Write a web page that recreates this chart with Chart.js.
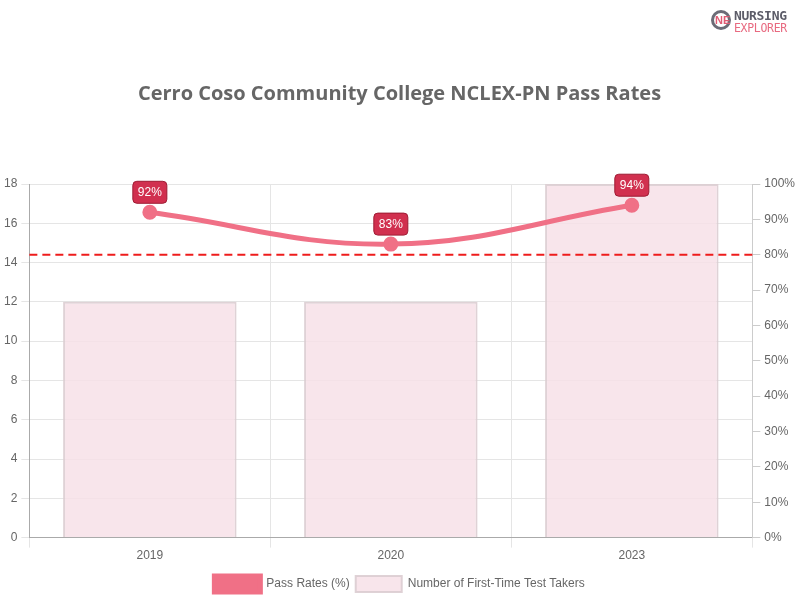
<!DOCTYPE html>
<html><head><meta charset="utf-8">
<script src="https://cdn.jsdelivr.net/npm/chart.js@4"></script>
<style>
html,body{margin:0;padding:0;background:#fff;}
#wrap{position:relative;width:800px;height:600px;}
#logo{position:absolute;left:710px;top:8px;width:90px;height:28px;font-family:"DejaVu Sans Mono","Liberation Mono",monospace;}
#logo .ic{position:absolute;left:1px;top:2px;width:20px;height:20px;border:3px solid #6b6b76;border-radius:50%;box-sizing:border-box;}
#logo .ic span{position:absolute;left:1px;top:1px;font:bold 11px "Liberation Sans",sans-serif;color:#e05c74;}
#logo .t1{position:absolute;left:24px;top:0px;font-weight:bold;font-size:13px;color:#5c5c68;letter-spacing:-0.3px;}
#logo .t2{position:absolute;left:24px;top:13px;font-size:11.5px;color:#e86a80;letter-spacing:-0.3px;}
</style></head>
<body><div id="wrap"><canvas id="c" width="800" height="600"></canvas>
<div id="logo"><div class="ic"><span>NE</span></div><div class="t1">NURSING</div><div class="t2">EXPLORER</div></div></div>
<script>
const categories = ["2019", "2020", "2023"];
const passRates = [92, 83, 94];
const testTakers = [12, 12, 18];
const benchmark = 80;
const leftTicksMax = 18;

const lineColor = "#f07086";

const benchmarkPlugin = {
  id: "benchmark",
  afterDatasetsDraw(chart) {
    const {ctx, chartArea} = chart;
    const y = chart.scales.y1.getPixelForValue(benchmark);
    ctx.save();
    ctx.strokeStyle = "#ee1c1c";
    ctx.lineWidth = 2;
    ctx.setLineDash([8, 5]);
    ctx.beginPath();
    ctx.moveTo(chartArea.left, y);
    ctx.lineTo(chartArea.right, y);
    ctx.stroke();
    ctx.restore();
  }
};

const legendSpace = {
  id: "legendSpace",
  beforeInit(chart) {
    const origFit = chart.legend.fit;
    chart.legend.fit = function () {
      origFit.bind(chart.legend)();
      this.height += 4;
    };
  },
  afterLayout(chart) {
    chart.legend.top += 6;
    chart.legend.bottom += 6;
  }
};

const labelPlugin = {
  id: "pointLabels",
  afterDatasetsDraw(chart) {
    const {ctx} = chart;
    const meta = chart.getDatasetMeta(0);
    ctx.save();
    ctx.font = "12px 'Liberation Sans', Arial, sans-serif";
    meta.data.forEach((pt, i) => {
      const txt = passRates[i] + "%";
      const w = ctx.measureText(txt).width + 10;
      const h = 22;
      const x = pt.x - w / 2;
      const y = pt.y - 9 - h;
      ctx.beginPath();
      ctx.roundRect(x, y, w, h, 4);
      ctx.fillStyle = "#d1304f";
      ctx.fill();
      ctx.lineWidth = 1;
      ctx.strokeStyle = "#9e1c34";
      ctx.stroke();
      ctx.fillStyle = "#fff";
      ctx.textAlign = "center";
      ctx.textBaseline = "middle";
      ctx.fillText(txt, pt.x, y + h / 2 + 0.5);
    });
    ctx.restore();
  }
};

Chart.defaults.font.family = "'Liberation Sans', Arial, sans-serif";
Chart.defaults.font.size = 12;
Chart.defaults.color = "#666";

new Chart(document.getElementById("c"), {
  type: "bar",
  data: {
    labels: categories,
    datasets: [
      {
        type: "line",
        label: "Pass Rates (%)",
        data: passRates,
        yAxisID: "y1",
        borderColor: lineColor,
        backgroundColor: lineColor,
        borderWidth: 5,
        tension: 0.4,
        pointRadius: 5,
        pointHoverRadius: 5,
        pointBackgroundColor: lineColor,
        pointBorderColor: lineColor,
        order: 0
      },
      {
        type: "bar",
        label: "Number of First-Time Test Takers",
        data: testTakers,
        yAxisID: "y",
        backgroundColor: "rgba(247, 225, 232, 0.85)",
        borderColor: "rgba(220, 205, 210, 0.9)",
        borderWidth: 2,
        order: 1
      }
    ]
  },
  options: {
    responsive: false,
    animation: false,
    layout: { padding: { left: 0, right: 1, top: 0, bottom: 0 } },
    plugins: {
      title: {
        display: true,
        text: "Cerro Coso Community College NCLEX-PN Pass Rates",
        font: { family: "'Open Sans', sans-serif", size: 20, weight: "bold" },
        color: "#666",
        padding: { top: 82, bottom: 78 }
      },
      legend: {
        position: "bottom",
        labels: { boxWidth: 46, boxHeight: 16, padding: 6, font: { size: 12 }, color: "#666" }
      },
      tooltip: { enabled: false }
    },
    scales: {
      x: {
        grid: { color: "#e5e5e5", tickLength: 10, offset: true },
        border: { color: "#aaa" },
        ticks: { color: "#666", padding: 1 }
      },
      y: {
        position: "left",
        min: 0, max: leftTicksMax,
        ticks: { stepSize: 2, color: "#666", padding: 4 },
        grid: { color: "#e5e5e5", tickLength: 8 },
        border: { color: "#aaa" }
      },
      y1: {
        position: "right",
        min: 0, max: 100,
        ticks: { stepSize: 10, color: "#666", callback: v => v + "%", padding: 4 },
        grid: { drawOnChartArea: false, color: "#ccc", tickLength: 8 },
        border: { color: "#ccc" }
      }
    }
  },
  plugins: [legendSpace, benchmarkPlugin, labelPlugin]
});
</script></body></html>
